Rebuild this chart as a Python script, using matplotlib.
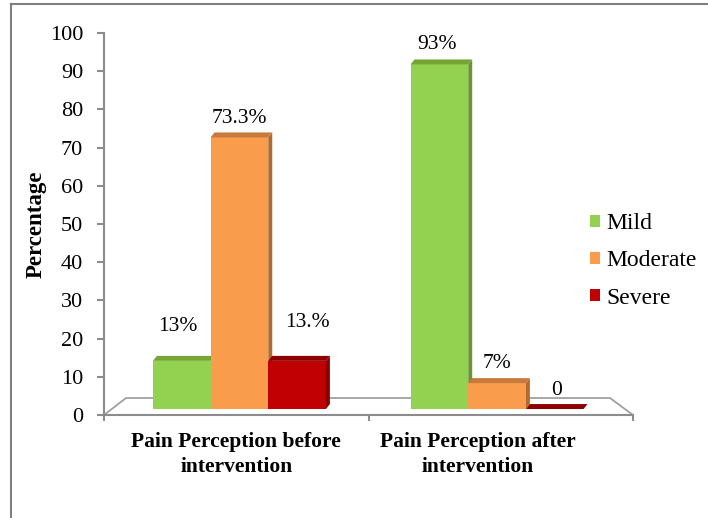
import matplotlib.pyplot as plt
from matplotlib.patches import Polygon, Patch
from matplotlib.lines import Line2D

# data
groups = ["Pain Perception before\nintervention", "Pain Perception after\nintervention"]
levels = ["Mild", "Moderate", "Severe"]
mild = [13, 93]
moderate = [73.3, 7]
severe = [13, 0]
labels = [["13%", "73.3%", "13.%"], ["93%", "7%", "0"]]

plt.rcParams['font.family'] = ['Liberation Serif', 'DejaVu Serif']

front = ["#93d150", "#f99c4c", "#c00000"]
top_c = ["#76a535", "#c77a3c", "#8e0000"]
side_c = ["#6a962e", "#b46a2e", "#8a0000"]

# label offsets (data units) per group/bar
lab_dx = [[-0.015, 0.0, 0.04], [-0.008, 0.0, 0.008]]
lab_dy = [[10.3, 4.4, 11.1], [3.9, 6.4, 6.5]]

fig = plt.figure(figsize=(7.08, 5.18), dpi=100)
ax = fig.add_axes([0.1469, 0.1988, 0.7472, 0.7375])
ax.set_xlim(0, 2)
ax.set_ylim(0, 100)

gray = "#8c8c8c"
# floor
ax.add_patch(Polygon([(0, 0), (2, 0), (1.913, 4.45), (0.083, 4.45)], closed=True,
                     facecolor="white", edgecolor="#a0a0a0", lw=1.3, zorder=1, clip_on=False))

centers = [0.512, 1.486]
w = 0.218
base = 1.57
k = 0.97
dxb, dyb = 0.015, 1.3
series = [mild, moderate, severe]
for gi, c in enumerate(centers):
    for si, vals in enumerate(series):
        x0 = c + (si - 1) * w - w / 2
        x1 = x0 + w
        h = vals[gi] * k
        ax.bar(x0, h, bottom=base, width=w, align='edge', color=front[si],
               edgecolor='none', zorder=3)
        t = base + h
        ax.add_patch(Polygon([(x0, t), (x1, t), (x1 + dxb, t + dyb), (x0 + dxb, t + dyb)],
                             closed=True, facecolor=top_c[si], edgecolor='none', zorder=3))
        ax.add_patch(Polygon([(x1, base), (x1, t), (x1 + dxb, t + dyb), (x1 + dxb, base + dyb)],
                             closed=True, facecolor=side_c[si], edgecolor='none', zorder=2))
        ax.text(x0 + w / 2 + lab_dx[gi][si], vals[gi] + lab_dy[gi][si], labels[gi][si],
                ha='center', va='center', fontsize=15.5, zorder=5)

for sp in ['top', 'right']:
    ax.spines[sp].set_visible(False)
for sp in ['left', 'bottom']:
    ax.spines[sp].set_color(gray)
    ax.spines[sp].set_linewidth(1.5)

ax.set_yticks(range(0, 101, 10))
ax.tick_params(axis='y', length=5, width=1.5, color=gray, pad=10, labelsize=16)
ax.set_xticks([0, 1, 2])
ax.set_xticklabels(["", "", ""])
ax.tick_params(axis='x', length=4, width=1.5, color=gray)

ax.set_ylabel("Percentage", fontsize=16.5, fontweight='bold', labelpad=2)

label_x = [0.5, 1.414]
for lx, g in zip(label_x, groups):
    ax.text(lx, -4.5, g, ha='center', va='top', fontsize=15.5, fontweight='bold',
            linespacing=1.3, transform=ax.transData)

handles = [Patch(facecolor=front[i], edgecolor='none') for i in range(3)]
fig.legend(handles, levels, loc='center left', bbox_to_anchor=(583 / 708, 1 - 261 / 518),
           frameon=False, fontsize=17, handlelength=0.42, handleheight=0.42,
           handletextpad=0.25, labelspacing=0.68, borderaxespad=0, borderpad=0.3)

# outer border
fig.add_artist(Line2D([11 / 708, 11 / 708], [0, 1 - 4 / 518], color="#7f7f7f", lw=1.5))
fig.add_artist(Line2D([11 / 708, 1], [1 - 4 / 518, 1 - 4 / 518], color="#7f7f7f", lw=1.5))

fig.savefig("out.png", dpi=100)
